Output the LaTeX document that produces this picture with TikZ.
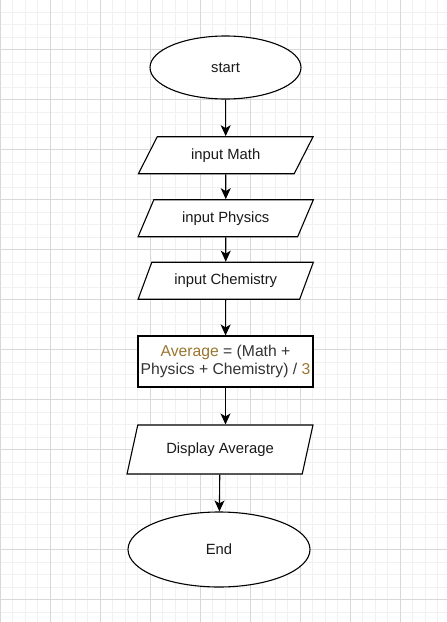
\documentclass[tikz,border=0pt]{standalone}
\usepackage{fontspec}
\setmainfont{Liberation Sans}
\usetikzlibrary{shapes.geometric,arrows.meta}
\definecolor{avgcol}{HTML}{9A7630}
\definecolor{txtgrey}{HTML}{333333}
\definecolor{minorgrid}{HTML}{F1F1F1}
\definecolor{majorgrid}{HTML}{D8D8D8}

\tikzset{
  terminal/.style={draw,shape=ellipse,line width=1.1pt,fill=white,inner sep=0pt},
  io/.style={draw,shape=trapezium,trapezium stretches=true,line width=1.1pt,
    fill=white,inner sep=0pt},
  process/.style={draw,shape=rectangle,line width=1.1pt,fill=white,inner sep=0pt,
    minimum width=175pt,minimum height=51pt,align=center},
  flow/.style={line width=1.1pt,-{Stealth[length=11pt,width=10pt,inset=3pt]}},
  lbl/.style={font=\fontsize{14.8}{17}\selectfont,text=black!90}
}

\begin{document}
\begin{tikzpicture}[x=1pt,y=-1pt]
   \useasboundingbox (0,0) rectangle (447,622);
   \fill[white] (0,0) rectangle (447,622);
   % grid
   \foreach \gx in {0,12.5,...,447} \draw[minorgrid,line width=0.7pt] (\gx,0) -- (\gx,622);
   \foreach \gy in {-0.5,12,...,622} \draw[minorgrid,line width=0.7pt] (0,\gy) -- (447,\gy);
   \foreach \gx in {0,50,...,447} \draw[majorgrid,line width=0.8pt] (\gx,0) -- (\gx,622);
   \foreach \gy in {-0.5,49.5,...,622} \draw[majorgrid,line width=0.8pt] (0,\gy) -- (447,\gy);

   \path (225.5,67.5) node[terminal,lbl,minimum width=151pt,minimum height=63pt] (start) {start};
   \path (225.75,155.2) node[io,lbl,trapezium left angle=55.4,trapezium right angle=124.6,
     minimum width=175.5pt,minimum height=37pt] (math) {input Math};
   \path (225.75,218.2) node[io,lbl,trapezium left angle=55.4,trapezium right angle=124.6,
     minimum width=175.5pt,minimum height=37pt] (phys) {input Physics};
   \path (225.75,280.7) node[io,lbl,trapezium left angle=55.4,trapezium right angle=124.6,
     minimum width=175.5pt,minimum height=37pt] (chem) {input Chemistry};
   \path (225.5,361.5) node[process,font=\fontsize{15.7}{18}\selectfont,text=txtgrey] (avg)
   {\textcolor{avgcol}{Average} = (Math +\\Physics + Chemistry) / \textcolor{avgcol}{3}};
   \path (220,449.5) node[io,lbl,trapezium left angle=63,trapezium right angle=117,
     minimum width=186pt,minimum height=49pt] (disp) {Display Average};
   \path (219,549.5) node[terminal,lbl,minimum width=182pt,minimum height=75pt] (stop) {End};

   \draw[flow] (start) -- (math);
   \draw[flow] (math) -- (phys);
   \draw[flow] (phys) -- (chem);
   \draw[flow] (chem) -- (avg);
   \draw[flow] (avg) -- (avg |- disp.north);
   \draw[flow] (disp) -- (stop);
\end{tikzpicture}
\end{document}
